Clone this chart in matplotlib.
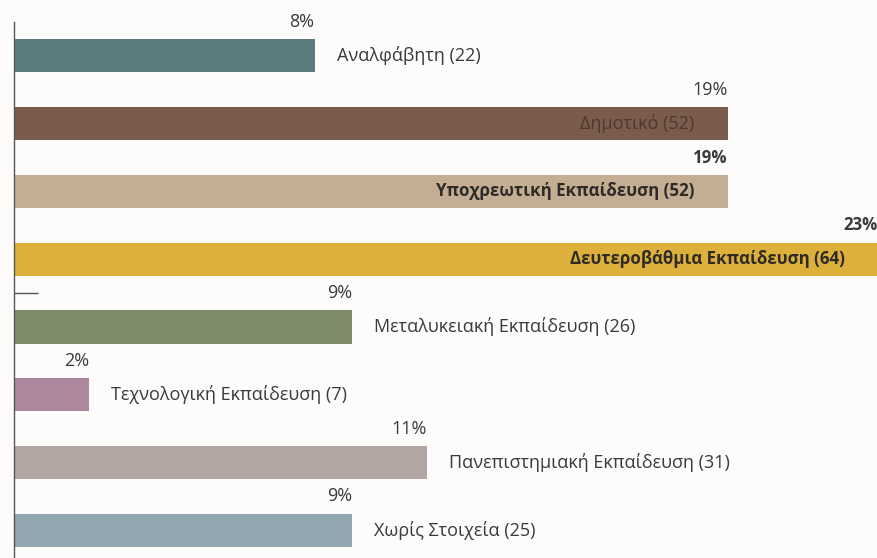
import matplotlib
matplotlib.use("Agg")
import matplotlib.pyplot as plt

plt.rcParams['font.family'] = ['Open Sans', 'DejaVu Sans']

# education level, respondent count, share of total (%)
levels = ["Αναλφάβητη", "Δημοτικό", "Υποχρεωτική Εκπαίδευση",
          "Δευτεροβάθμια Εκπαίδευση", "Μεταλυκειακή Εκπαίδευση",
          "Τεχνολογική Εκπαίδευση", "Πανεπιστημιακή Εκπαίδευση",
          "Χωρίς Στοιχεία"]
counts = [22, 52, 52, 64, 26, 7, 31, 25]
percents = [8, 19, 19, 23, 9, 2, 11, 9]

colors = ["#5c7b7f", "#7b5c4c", "#c4ae93", "#ddb03b",
          "#7f8c6c", "#ac879d", "#b2a6a3", "#93a7b2"]
bold = [False, False, True, True, False, False, False, False]
inside = [False, True, True, True, False, False, False, False]

bg = "#fefcfa"
txt = "#3a3a3a"

fig = plt.figure(figsize=(8.78, 5.58), dpi=100, facecolor=bg)
ax = fig.add_axes([14 / 878, 0, 1 - 14 / 878, 1 - 22 / 558], facecolor=bg)

ypos = list(range(len(levels)))
ax.barh(ypos, percents, height=0.49, color=colors)

for y, p, name, n, b, ins in zip(ypos, percents, levels, counts, bold, inside):
    w = "bold" if b else "normal"
    fs = 12.2 if b else 13
    ax.annotate(f"{p}%", (p, y - 0.5), xytext=(0, 0), textcoords="offset points",
                ha="right", va="center", fontsize=fs, color=txt, fontweight=w)
    label = f"{name} ({n})"
    if ins:
        col = "#4a3a32" if name == "Δημοτικό" else "#2e2a26"
        ax.annotate(label, (p, y), xytext=(-24, 0), textcoords="offset points",
                    ha="right", va="center", fontsize=fs, color=col, fontweight=w)
    else:
        ax.annotate(label, (p, y), xytext=(16, 0), textcoords="offset points",
                    ha="left", va="center", fontsize=fs, color=txt, fontweight=w)

ax.set_xlim(0, 23)
ax.set_ylim(7.41, -0.5)
ax.set_xticks([])
ax.set_yticks([3.5])
ax.set_yticklabels([""])
ax.tick_params(axis="y", direction="in", length=17, width=1, color="#555555")
for s in ["top", "right", "bottom"]:
    ax.spines[s].set_visible(False)
ax.spines["left"].set_color("#555555")
ax.spines["left"].set_linewidth(1)

fig.savefig("out.png", dpi=100, facecolor=bg)
